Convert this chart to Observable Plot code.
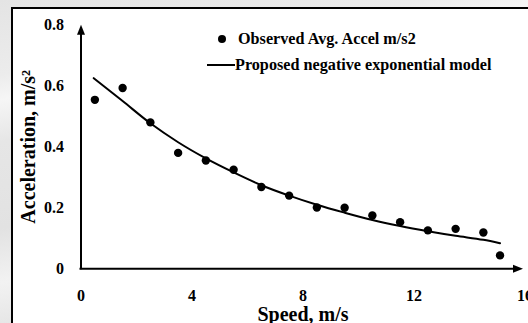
<!DOCTYPE html>
<html>
<head>
<meta charset="utf-8">
<script src="https://cdn.jsdelivr.net/npm/d3@7"></script>
<script src="https://cdn.jsdelivr.net/npm/@observablehq/plot@0.6"></script>
<style>
  html, body { margin: 0; padding: 0; }
  body {
    width: 528px; height: 323px; overflow: hidden;
    background: linear-gradient(170deg, #e4e4e4 0%, #ececec 18%, #f6f6f6 24%, #e6e6e6 34%, #e2e2e2 55%, #f2f2f2 68%, #e4e4e4 80%, #f4f4f4 95%);
    font-family: "Liberation Serif", "Times New Roman", serif;
  }
  #wrap { position: relative; width: 528px; height: 323px; overflow: hidden; }
  #frame {
    position: absolute; left: 11px; top: 7px; width: 540px; height: 340px;
    border-left: 2px solid #000; border-top: 2px solid #000; background: #fff;
  }
  #chart { position: absolute; left: 0; top: 0; }
  .legend { position: absolute; font-weight: bold; font-size: 16.2px; color: #000; white-space: nowrap; line-height: 1; }
  .key-dot { position: absolute; width: 8px; height: 8px; border-radius: 50%; background: #000; }
  .key-line { position: absolute; height: 2px; background: #000; }
</style>
</head>
<body>
<div id="wrap">
  <div id="frame"></div>
  <div id="chart"></div>
  <div class="key-dot" style="left:217.5px; top:35px;"></div>
  <div class="legend" style="left:238px; top:31px;">Observed Avg. Accel m/s2</div>
  <div class="key-line" style="left:207px; top:64px; width:28px;"></div>
  <div class="legend" style="left:235px; top:57px;">Proposed negative exponential model</div>
</div>
<script>
// Observed average acceleration by speed bin
const speedObs = [0.5, 1.5, 2.5, 3.5, 4.5, 5.5, 6.5, 7.5, 8.5, 9.5, 10.5, 11.5, 12.5, 13.5, 14.5, 15.1];
const accelObs = [0.554, 0.593, 0.480, 0.380, 0.355, 0.325, 0.268, 0.240, 0.201, 0.200, 0.175, 0.153, 0.126, 0.131, 0.119, 0.044];

// Proposed negative exponential model curve
const speedModel = [0.46, 1.5, 2.5, 3.5, 4.5, 5.5, 6.5, 7.5, 8.5, 9.5, 10.5, 11.5, 12.5, 13.5, 14.5, 15.1];
const accelModel = [0.625, 0.550, 0.477, 0.415, 0.362, 0.316, 0.274, 0.240, 0.210, 0.184, 0.160, 0.140, 0.123, 0.108, 0.095, 0.084];

// Axis ticks
const xTicks = [0, 4, 8, 12, 16];
const yTicks = [0, 0.2, 0.4, 0.6, 0.8];

const observed = speedObs.map((s, i) => ({speed: s, accel: accelObs[i]}));
const model = speedModel.map((s, i) => ({speed: s, accel: accelModel[i]}));

// Slim filled arrowhead; tip points up, base sits at the origin
const arrowUp = {
  draw(ctx) {
    ctx.moveTo(0, -10);
    ctx.lineTo(4, 0);
    ctx.lineTo(-4, 0);
    ctx.closePath();
  }
};

const chart = Plot.plot({
  width: 528,
  height: 323,
  marginLeft: 80.5,
  marginRight: 3.5,
  marginTop: 24.3,
  marginBottom: 54.7,
  style: {
    background: "transparent",
    fontFamily: "Liberation Serif, Times New Roman, serif",
    fontWeight: "bold",
    fontSize: "16px",
    color: "#000",
    overflow: "visible"
  },
  x: {domain: [0, 16], ticks: xTicks, tickSize: 0, tickPadding: 21, tickFormat: String, label: null},
  y: {domain: [0, 0.8], ticks: yTicks, tickSize: 0, tickPadding: 17, tickFormat: String, label: null},
  marks: [
    // axis lines with arrowheads
    Plot.ruleX([0], {stroke: "#000", strokeWidth: 2, insetTop: 8, insetBottom: -1}),
    Plot.ruleY([0], {stroke: "#000", strokeWidth: 2, insetRight: 10, insetLeft: -1}),
    Plot.dot([0.8], {x: 0, y: d => d, symbol: arrowUp, r: 5, fill: "#000", stroke: null, dy: 10}),
    Plot.dot([16], {x: d => d, y: 0, symbol: arrowUp, r: 5, fill: "#000", stroke: null, rotate: 90, dx: -12}),
    // model curve and observations
    Plot.line(model, {x: "speed", y: "accel", curve: "monotone-x", stroke: "#000", strokeWidth: 2}),
    Plot.dot(observed, {x: "speed", y: "accel", r: 4.2, fill: "#000", stroke: null}),
    // axis titles
    Plot.text(["Speed, m/s"], {frameAnchor: "bottom", dy: 46, textAnchor: "middle", lineAnchor: "middle", fontSize: 20, fontWeight: "bold"}),
    Plot.text(["Acceleration, m/s\u00B2"], {frameAnchor: "left", dx: -52, rotate: -90, textAnchor: "middle", lineAnchor: "middle", fontSize: 20, fontWeight: "bold"})
  ]
});

document.getElementById("chart").append(chart);
</script>
</body>
</html>
